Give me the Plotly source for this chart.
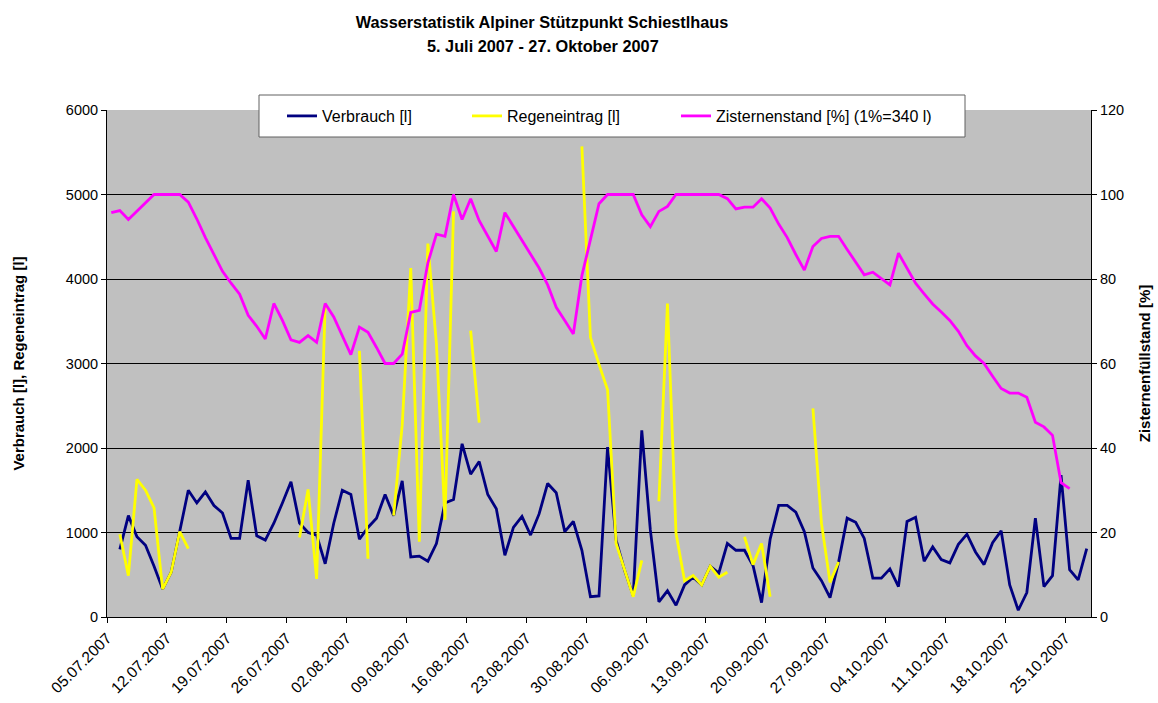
import pandas as pd
import plotly.graph_objects as go

# ---------------- data (one value per day, slot 0 = 05.07.2007) ----------------
start_date = "2007-07-05"
n_days = 115

verbrauch = [
    None,
    800, 1200, 950, 850, 600, 330, 530, 1010, 1500, 1350,
    1480, 1320, 1230, 930, 930, 1620, 960, 910, 1110, 1350,
    1600, 1110, 1000, 970, 630, 1110, 1500, 1450, 920, 1060,
    1170, 1450, 1200, 1610, 710, 720, 660, 870, 1350, 1390,
    2050, 1690, 1840, 1450, 1280, 730, 1060, 1190, 970, 1220,
    1580, 1470, 1010, 1130, 790, 240, 250, 2010, 910, 550,
    250, 2210, 1030, 180, 310, 140, 380, 470, 380, 600,
    520, 870, 790, 790, 610, 170, 920, 1320, 1320, 1240,
    1010, 580, 430, 230, 650, 1170, 1120, 930, 460, 460,
    570, 360, 1130, 1180, 660, 830, 680, 640, 860, 980,
    770, 620, 880, 1020, 380, 80, 290, 1170, 360, 490,
    1680, 560, 440, 810,
]

regeneintrag = (
    [None]
    + [980, 490, 1630, 1500, 1290, 330, 530, 1010, 810]          # 1-9
    + [None] * 12                                                 # 10-21
    + [940, 1510, 450, 3700]                                      # 22-25
    + [None] * 3                                                  # 26-28
    + [3150, 690]                                                 # 29-30
    + [None] * 2                                                  # 31-32
    + [1200, 2270, 4130, 890, 4420, 3230, 1150, 4800]             # 33-40
    + [None]                                                      # 41
    + [3390, 2300]                                                # 42-43
    + [None] * 11                                                 # 44-54
    + [5570, 3310, 2990, 2690, 870, 550, 240, 670]                # 55-62
    + [None]                                                      # 63
    + [1370, 3710, 990, 430, 490, 380, 600, 470, 530]             # 64-72
    + [None]                                                      # 73
    + [950, 620, 870, 240]                                        # 74-77
    + [None] * 4                                                  # 78-81
    + [2470, 1110, 410, 650]                                      # 82-85
    + [None] * 29                                                 # 86-114
)

zisternenstand = [
    95.7, 96.2, 94.1, 96.0, 98.0, 100, 100, 100, 100, 98.2,
    94.2, 89.8, 85.6, 81.8, 79.0, 76.4, 71.4, 68.8, 65.8, 74.2,
    70.2, 65.6, 65.0, 66.6, 65.0, 74.2, 71.0, 66.6, 62.1, 68.6,
    67.4, 63.8, 60.0, 60.0, 62.2, 72.1, 72.6, 83.8, 90.6, 90.1,
    100, 94.1, 99.0, 93.8, 90.2, 86.5, 95.7, 92.5, 89.0, 85.8,
    82.6, 78.6, 73.3, 70.2, 67.0, 80.8, 89.0, 97.8, 100, 100,
    100, 100, 95.2, 92.4, 96.0, 97.2, 100, 100, 100, 100,
    100, 100, 99.0, 96.6, 97.0, 97.0, 99.0, 96.8, 93.0, 89.8,
    85.8, 82.1, 87.7, 89.6, 90.1, 90.1, 87.0, 84.0, 81.0, 81.6,
    80.0, 78.6, 86.1, 82.6, 79.0, 76.5, 74.1, 72.2, 70.2, 67.6,
    64.2, 61.8, 60.0, 57.0, 54.1, 53.0, 53.0, 52.0, 46.1, 45.0,
    43.0, 31.8, 30.4, None, None,
]

tick_labels = [
    "05.07.2007", "12.07.2007", "19.07.2007", "26.07.2007", "02.08.2007",
    "09.08.2007", "16.08.2007", "23.08.2007", "30.08.2007", "06.09.2007",
    "13.09.2007", "20.09.2007", "27.09.2007", "04.10.2007", "11.10.2007",
    "18.10.2007", "25.10.2007",
]

series_names = ["Verbrauch [l]", "Regeneintrag [l]", "Zisternenstand [%] (1%=340 l)"]
series_colors = ["#000080", "#FFFF00", "#FF00FF"]
title_line1 = "Wasserstatistik Alpiner Stützpunkt Schiestlhaus"
title_line2 = "5. Juli 2007 - 27. Oktober 2007"

# ---------------- figure ----------------
days = pd.date_range(start_date, periods=n_days, freq="D")
x_vals = days + pd.Timedelta(hours=12)          # each daily value sits in the middle of its day slot
tick_vals = pd.to_datetime(tick_labels, format="%d.%m.%Y")
x_range = [days[0], days[-1] + pd.Timedelta(days=1)]

FONT = "Liberation Sans, Arial, sans-serif"

W, H = 1158, 703
L, R, T, B = 107, 67, 110, 86
pw = W - L - R
ph = H - T - B


def px_x(px):
    return (px - L) / pw


def px_y(py):
    return 1 - (py - T) / ph


fig = go.Figure()
fig.add_trace(go.Scatter(x=x_vals, y=verbrauch, mode="lines", name=series_names[0],
                         line=dict(color=series_colors[0], width=2.8), connectgaps=False,
                         legend="legend"))
fig.add_trace(go.Scatter(x=x_vals, y=regeneintrag, mode="lines", name=series_names[1],
                         line=dict(color=series_colors[1], width=2.8), connectgaps=False,
                         legend="legend2"))
fig.add_trace(go.Scatter(x=x_vals, y=zisternenstand, mode="lines", name=series_names[2],
                         line=dict(color=series_colors[2], width=2.8), connectgaps=False,
                         yaxis="y2", legend="legend3"))

legend_common = dict(orientation="h", xanchor="left", yanchor="middle", y=px_y(116),
                     bgcolor="rgba(0,0,0,0)", borderwidth=0,
                     font=dict(size=16, family=FONT))

fig.update_layout(
    template="none",
    width=W, height=H,
    margin=dict(l=L, r=R, t=T, b=B, pad=0),
    paper_bgcolor="white",
    plot_bgcolor="#C0C0C0",
    font=dict(family=FONT, size=14, color="black"),
    title=dict(text="<b>" + title_line1 + "</b>", x=542 / W, xanchor="center",
               y=1 - 22 / H, yanchor="middle", font=dict(size=16.3, family=FONT)),
    annotations=[dict(text="<b>" + title_line2 + "</b>", xref="paper", yref="paper",
                      x=px_x(543), y=px_y(46), xanchor="center", yanchor="middle",
                      showarrow=False, font=dict(size=16.3, family=FONT))],
    showlegend=True,
    legend=dict(legend_common, x=px_x(282)),
    legend2=dict(legend_common, x=px_x(467)),
    legend3=dict(legend_common, x=px_x(676)),
    shapes=[dict(type="rect", xref="paper", yref="paper",
                 x0=px_x(259), x1=px_x(965), y0=px_y(137), y1=px_y(95),
                 fillcolor="white", line=dict(color="#606060", width=1), layer="above")],
    xaxis=dict(type="date", range=x_range, tickmode="array", tickvals=tick_vals,
               ticktext=tick_labels, tickangle=-45, ticks="outside", ticklen=5,
               tickcolor="black", showline=True, linecolor="black", linewidth=1,
               showgrid=False, zeroline=False, automargin=False,
               tickfont=dict(size=15.5, family=FONT)),
    yaxis=dict(range=[0, 6000], tick0=0, dtick=1000, ticks="outside", ticklen=5,
               tickcolor="black", showline=True, linecolor="black", linewidth=1,
               showgrid=True, gridcolor="black", gridwidth=1, zeroline=False,
               automargin=False, tickfont=dict(size=14.5, family=FONT),
               title=dict(text="<b>Verbrauch [l], Regeneintrag [l]</b>",
                          font=dict(size=15, family=FONT), standoff=37)),
    yaxis2=dict(overlaying="y", side="right", range=[0, 120], tick0=0, dtick=20,
                ticks="outside", ticklen=5, tickcolor="black", showline=True,
                linecolor="black", linewidth=1, showgrid=False, zeroline=False,
                automargin=False, tickfont=dict(size=14.5, family=FONT),
                title=dict(text="<b>Zisternenfüllstand [%]</b>",
                           font=dict(size=15, family=FONT), standoff=16)),
)

fig.write_html("out.html", config={"displayModeBar": False},
               post_script="document.body.style.margin='0';")
